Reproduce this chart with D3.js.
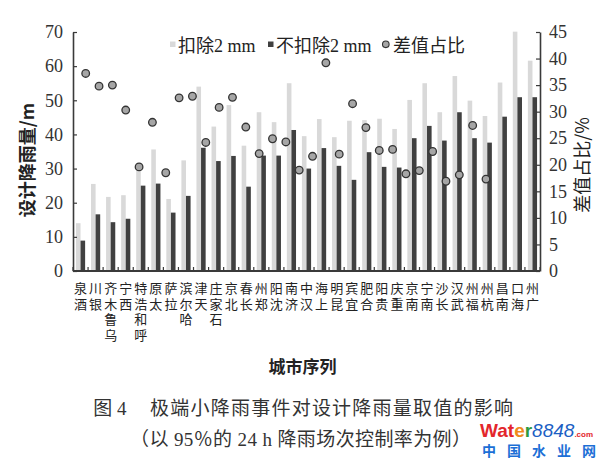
<!DOCTYPE html>
<html><head><meta charset="utf-8">
<script src="https://cdn.jsdelivr.net/npm/d3@7"></script>
<style>body{margin:0;background:#fff}</style>
</head><body><svg id="c" width="608" height="463"></svg>
<script>
const cities = ["酒泉","银川","乌鲁木齐","西宁","呼和浩特","太原","拉萨","哈尔滨","天津","石家庄","北京","长春","郑州","沈阳","济南","汉中","上海","昆明","宜宾","合肥","贵阳","重庆","南京","南宁","长沙","武汉","福州","杭州","南昌","海口","广州"];
// 扣除2 mm (mm)
const deducted = [14.0,25.5,21.7,22.2,31.0,35.6,21.1,32.4,54.0,42.3,48.6,36.7,46.5,43.6,55.0,39.5,44.5,39.2,44.0,44.2,44.6,41.6,50.1,55.0,46.5,57.1,49.9,45.4,55.2,70.1,61.6];
// 不扣除2 mm (mm)
const notDeducted = [8.9,16.6,14.3,15.3,25.0,25.6,17.1,22.0,36.1,32.2,33.7,24.7,33.8,33.8,41.3,30.0,36.0,30.8,26.7,34.8,30.5,30.3,38.9,42.5,38.2,46.5,38.9,37.6,45.2,50.9,50.9];
// 差值占比 (%)
const diffRatio = [37.2,34.8,35.0,30.3,19.6,28.0,18.5,32.6,32.9,24.2,30.8,32.7,27.1,22.1,24.9,24.3,19.0,21.6,39.2,22.0,31.5,27.0,22.7,22.9,18.3,18.9,22.5,16.9,18.1,27.4,17.3];
const leftTicks = [0,10,20,30,40,50,60,70];
const rightTicks = [0,5,10,15,20,25,30,35,40,45];
const seriesNames = ["扣除2 mm","不扣除2 mm","差值占比"];

const svg = d3.select("#c");
const L = 73, R = 540, T = 32, B = 271;
const numFont = "'Liberation Serif','Times New Roman',serif";
const cjkFont = "'Noto Sans CJK SC',sans-serif";
const mixFont = "'Liberation Serif','Noto Sans CJK SC',serif";
const axisColor = "#3a3a3a";
const lightC = "#d9d9d9", darkC = "#404040", dotC = "#a6a6a6";

const x0 = d3.scaleBand().domain(cities).range([L, R]).paddingInner(0.39).paddingOuter(0.195);
const xFull = d3.scaleBand().domain(cities).range([L, R]);
const x1 = d3.scaleBand().domain(["a","b"]).range([0, x0.bandwidth()]);
const xDot = d3.scalePoint().domain(cities).range([85.7, 486]);
const yL = d3.scaleLinear().domain([0,70]).range([B, T]);
const yR = d3.scaleLinear().domain([0,45]).range([B, T]);

const data = cities.map((c,i)=>({c, a:deducted[i], b:notDeducted[i], p:diffRatio[i]}));

// bars
const g = svg.append("g");
g.selectAll("rect.a").data(data).join("rect").attr("class","a")
  .attr("x", d=>x0(d.c)+x1("a")).attr("width", x1.bandwidth())
  .attr("y", d=>yL(d.a)).attr("height", d=>yL(0)-yL(d.a)).attr("fill", lightC);
g.selectAll("rect.b").data(data).join("rect").attr("class","b")
  .attr("x", d=>x0(d.c)+x1("b")).attr("width", x1.bandwidth())
  .attr("y", d=>yL(d.b)).attr("height", d=>yL(0)-yL(d.b)).attr("fill", darkC);

// dots
g.selectAll("circle.p").data(data).join("circle").attr("class","p")
  .attr("cx", d=>xDot(d.c)).attr("cy", d=>yR(d.p)).attr("r", 3.8)
  .attr("fill", dotC).attr("stroke", "#333").attr("stroke-width", 1.3);

// left axis
const aL = svg.append("g").attr("transform",`translate(${L},0)`)
  .call(d3.axisLeft(yL).tickValues(leftTicks).tickSizeInner(-4).tickSizeOuter(0).tickPadding(10));
// right axis
const aR = svg.append("g").attr("transform",`translate(${R},0)`)
  .call(d3.axisRight(yR).tickValues(rightTicks).tickSizeInner(-4).tickSizeOuter(0).tickPadding(9));
[aL,aR].forEach(a=>{
  a.select(".domain").attr("stroke", axisColor).attr("stroke-width", 1.6);
  a.selectAll(".tick line").attr("stroke", axisColor).attr("stroke-width", 1.2);
  a.selectAll(".tick text").attr("font-family", numFont).attr("font-size", 18).attr("fill","#333");
});

// bottom axis
svg.append("line").attr("x1", L).attr("x2", R).attr("y1", B).attr("y2", B)
  .attr("stroke", axisColor).attr("stroke-width", 1.8);
const bounds = cities.map(c=>xFull(c)).concat([xFull(cities[cities.length-1])+xFull.bandwidth()]);
svg.selectAll("line.xt").data(bounds).join("line").attr("class","xt")
  .attr("x1", d=>d).attr("x2", d=>d).attr("y1", B).attr("y2", B-4)
  .attr("stroke", axisColor).attr("stroke-width", 1.2);

// category labels: upright characters stacked vertically, last character nearest the axis
svg.append("g").selectAll("text.cat").data(cities).join("text").attr("class","cat")
  .attr("x", c=>xFull(c)+xFull.bandwidth()/2).attr("y", 282)
  .attr("font-family", cjkFont).attr("font-size", 13).attr("fill","#222")
  .style("writing-mode","vertical-rl").style("text-orientation","upright")
  .attr("letter-spacing", 2.4)
  .text(c=>Array.from(c).reverse().join(""));

// axis titles
svg.append("text").attr("transform","translate(34,160) rotate(-90)").attr("text-anchor","middle")
  .attr("font-family", cjkFont).attr("font-size", 18).attr("font-weight","bold").attr("fill","#222")
  .text("设计降雨量/m");
svg.append("text").attr("transform","translate(589,165) rotate(-90)").attr("text-anchor","middle")
  .attr("font-family", cjkFont).attr("font-size", 18).attr("fill","#222")
  .text("差值占比/%");
svg.append("text").attr("x", 302.5).attr("y", 373).attr("text-anchor","middle")
  .attr("font-family", cjkFont).attr("font-size", 17).attr("font-weight","bold").attr("fill","#222")
  .text("城市序列");

// legend
const lg = svg.append("g").attr("font-size", 18).attr("fill","#222").attr("font-family", mixFont);
lg.append("rect").attr("x",170).attr("y",41.5).attr("width",5.5).attr("height",5.5).attr("fill", lightC);
lg.append("text").attr("x",178).attr("y",51.5).text(seriesNames[0]);
lg.append("rect").attr("x",268).attr("y",41.5).attr("width",5.5).attr("height",5.5).attr("fill", darkC);
lg.append("text").attr("x",276).attr("y",51.5).text(seriesNames[1]);
lg.append("circle").attr("cx",385.8).attr("cy",44.3).attr("r",3.3).attr("fill", dotC).attr("stroke","#333").attr("stroke-width",1.1);
lg.append("text").attr("x",393).attr("y",51.5).text(seriesNames[2]);

// caption
svg.append("text").attr("x", 93.3).attr("y", 415).attr("font-family", mixFont).attr("font-size", 19).attr("fill","#333").text("图 4");
svg.append("text").attr("x", 150).attr("y", 415).attr("font-family", cjkFont).attr("font-size", 19).attr("fill","#333")
  .attr("textLength", 363).attr("lengthAdjust","spacing").text("极端小降雨事件对设计降雨量取值的影响");
svg.append("text").attr("x", 130).attr("y", 446).attr("font-family", mixFont).attr("font-size", 19).attr("fill","#333")
  .attr("textLength", 341).attr("lengthAdjust","spacing").text("（以 95％的 24 h 降雨场次控制率为例）");

// watermark
const wm = svg.append("text").attr("x", 480).attr("y", 437).attr("font-family","'Liberation Sans',Arial,sans-serif").attr("font-weight","bold");
wm.append("tspan").attr("font-size", 19).attr("fill","#e3262c").text("Wat");
wm.append("tspan").attr("font-size", 19).attr("fill","#f08a1c").text("e");
wm.append("tspan").attr("font-size", 19).attr("fill","#2e9a3e").text("r");
wm.append("tspan").attr("font-size", 19).attr("font-style","italic").attr("font-weight","normal").attr("fill","#1c5fc4").text("8848");
wm.append("tspan").attr("font-size", 8).attr("fill","#e3262c").text(".com");
svg.append("text").attr("x", 482).attr("y", 456).attr("font-family", cjkFont).attr("font-weight","bold").attr("font-size", 14)
  .attr("fill","#1c6fd6").attr("textLength", 114).attr("lengthAdjust","spacing").text("中国水业网");
</script>
</body></html>
